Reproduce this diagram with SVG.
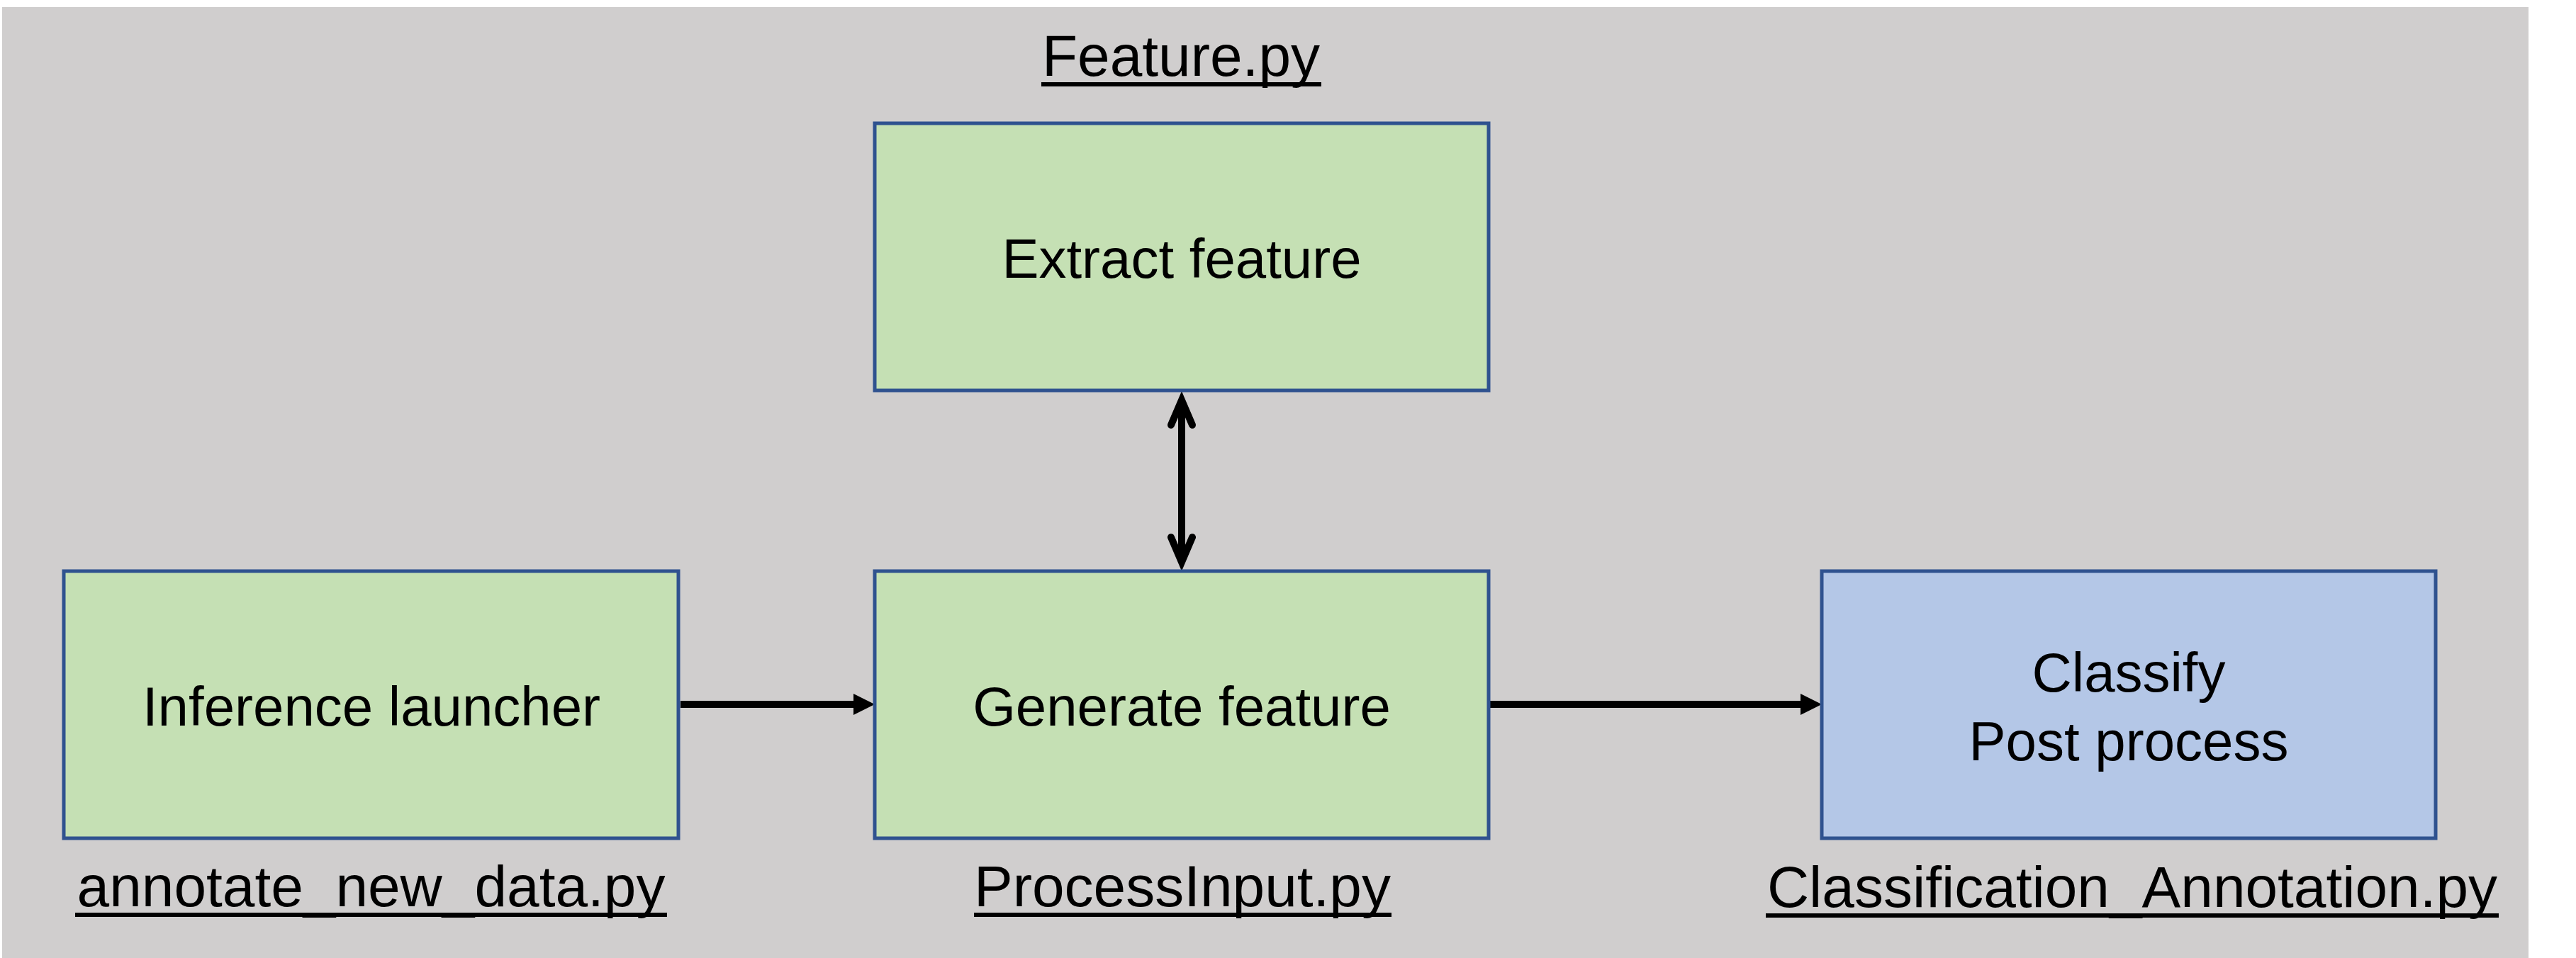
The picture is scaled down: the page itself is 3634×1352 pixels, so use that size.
<svg xmlns="http://www.w3.org/2000/svg" width="3634" height="1352" viewBox="0 0 3634 1352">
  <style>
    .node { stroke: #2F528F; stroke-width: 5; }
    .green { fill: #C5E0B4; }
    .blue { fill: #B4C7E7; }
    .btxt { font-family: "Liberation Sans", Arial, sans-serif; font-size: 78px; fill: #000; text-anchor: middle; }
    .lbl { font-family: "Liberation Sans", Arial, sans-serif; font-size: 82px; fill: #000; text-anchor: middle; }
    .ul { stroke: #000; stroke-width: 6; }
    .conn { stroke: #000; stroke-width: 10; fill: none; }
  </style>
  <defs>
    <marker id="solid" markerUnits="userSpaceOnUse" markerWidth="40" markerHeight="40" viewBox="0 -20 40 40" refX="0" refY="0" orient="auto" overflow="visible">
      <path d="M0,-15 L30,0 L0,15 Z" fill="#000"/>
    </marker>
    <marker id="open" markerUnits="userSpaceOnUse" markerWidth="80" markerHeight="80" viewBox="-40 -40 80 80" refX="0.8" refY="0" orient="auto-start-reverse" overflow="visible">
      <path d="M-35,-15 L0,0 L-35,15" fill="none" stroke="#000" stroke-width="10" stroke-linecap="round" stroke-linejoin="miter" stroke-miterlimit="6"/>
    </marker>
  </defs>

  <rect x="3" y="10" width="3564" height="1342" fill="#D0CECE"/>

  <g id="connectors">
    <line class="conn" x1="960" y1="994" x2="1204" y2="994" marker-end="url(#solid)"/>
    <line class="conn" x1="2102" y1="994" x2="2540" y2="994" marker-end="url(#solid)"/>
    <line class="conn" x1="1667" y1="564" x2="1667" y2="794" marker-start="url(#open)" marker-end="url(#open)"/>
  </g>

  <g id="node-extract">
    <rect class="node green" x="1234" y="174" width="866" height="377"/>
    <text class="btxt" x="1667" y="392">Extract feature</text>
  </g>
  <g id="node-inference">
    <rect class="node green" x="90" y="806" width="867" height="377"/>
    <text class="btxt" x="524" y="1024">Inference launcher</text>
  </g>
  <g id="node-generate">
    <rect class="node green" x="1234" y="806" width="866" height="377"/>
    <text class="btxt" x="1667" y="1024">Generate feature</text>
  </g>
  <g id="node-classify">
    <rect class="node blue" x="2570" y="806" width="866" height="377"/>
    <text class="btxt" x="3003" y="976">Classify</text>
    <text class="btxt" x="3003" y="1073">Post process</text>
  </g>

  <g id="label-feature">
    <text class="lbl" x="1666" y="107">Feature.py</text>
    <line class="ul" x1="1469" y1="119" x2="1864" y2="119"/>
  </g>
  <g id="label-annotate">
    <text class="lbl" x="523.5" y="1279">annotate_new_data.py</text>
    <line class="ul" x1="106" y1="1291" x2="941" y2="1291"/>
  </g>
  <g id="label-processinput">
    <text class="lbl" x="1668" y="1279">ProcessInput.py</text>
    <line class="ul" x1="1374" y1="1291" x2="1963" y2="1291"/>
  </g>
  <g id="label-classification">
    <text class="lbl" x="3008" y="1280">Classification_Annotation.py</text>
    <line class="ul" x1="2491" y1="1292" x2="3525" y2="1292"/>
  </g>
</svg>
